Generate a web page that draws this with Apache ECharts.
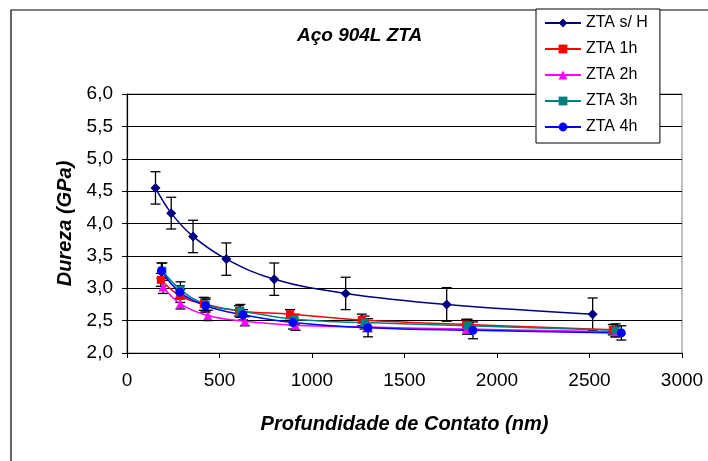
<!DOCTYPE html>
<html>
<head>
<meta charset="utf-8">
<title>Aço 904L ZTA</title>
<script src="https://cdn.jsdelivr.net/npm/echarts@6/dist/echarts.min.js"></script>
<style>
html, body { margin: 0; padding: 0; background: #fff; }
#main { width: 708px; height: 461px; }
</style>
</head>
<body>
<div id="main"></div>
<script>
// valores (profundidade nm, dureza GPa, barra de erro)
var seriesNames = ['ZTA s/ H', 'ZTA 1h', 'ZTA 2h', 'ZTA 3h', 'ZTA 4h'];

var x_sH = [154, 239, 357, 537, 796, 1182, 1728, 2517];
var y_sH = [4.55, 4.16, 3.80, 3.45, 3.14, 2.92, 2.75, 2.60];
var e_sH = [0.25, 0.245, 0.25, 0.25, 0.25, 0.25, 0.26, 0.25];

var x_1h = [183, 288, 415, 605, 881, 1269, 1833, 2626];
var y_1h = [3.13, 2.88, 2.76, 2.65, 2.60, 2.51, 2.44, 2.36];
var e_1h = [0.1, 0.1, 0.1, 0.08, 0.07, 0.09, 0.08, 0.08];

var x_2h = [195, 289, 437, 637, 911, 1300, 1838, 2640];
var y_2h = [3.02, 2.76, 2.58, 2.49, 2.43, 2.40, 2.37, 2.33];
var e_2h = [0.1, 0.08, 0.08, 0.07, 0.08, 0.07, 0.08, 0.08];

var x_3h = [191, 289, 425, 613, 906, 1284, 1841, 2641];
var y_3h = [3.27, 2.98, 2.75, 2.65, 2.52, 2.47, 2.42, 2.35];
var e_3h = [0.12, 0.12, 0.1, 0.1, 0.08, 0.1, 0.1, 0.1];

var x_4h = [186, 285, 424, 627, 897, 1303, 1870, 2672];
var y_4h = [3.27, 2.94, 2.73, 2.59, 2.47, 2.39, 2.35, 2.31];
var e_4h = [0.12, 0.1, 0.1, 0.08, 0.1, 0.14, 0.13, 0.11];

var xTicks = [0, 500, 1000, 1500, 2000, 2500, 3000];
var yTicks = [2.0, 2.5, 3.0, 3.5, 4.0, 4.5, 5.0, 5.5, 6.0];

var allX = [x_sH, x_1h, x_2h, x_3h, x_4h];
var allY = [y_sH, y_1h, y_2h, y_3h, y_4h];
var allE = [e_sH, e_1h, e_2h, e_3h, e_4h];
var colors = ['#000080', '#ff0000', '#ff00ff', '#008080', '#0000ff'];
var symbols = ['diamond', 'rect', 'triangle', 'rect', 'circle'];
var symbolSizes = [10, 8, 9, 8, 9];

var fontFam = '"Liberation Sans", Arial, sans-serif';

function pairs(xs, ys) {
    var out = [];
    for (var i = 0; i < xs.length; i++) {
        out.push([xs[i], ys[i]]);
    }
    return out;
}

function errData(xs, ys, es) {
    var out = [];
    for (var i = 0; i < xs.length; i++) {
        out.push([xs[i], ys[i] - es[i], ys[i] + es[i]]);
    }
    return out;
}

function errorBarItem(params, api) {
    var x = api.value(0);
    var lo = api.coord([x, api.value(1)]);
    var hi = api.coord([x, api.value(2)]);
    var w = 5;
    var st = { stroke: '#000', lineWidth: 1.3 };
    return {
        type: 'group',
        children: [
            { type: 'line', shape: { x1: hi[0], y1: hi[1], x2: lo[0], y2: lo[1] }, style: st },
            { type: 'line', shape: { x1: hi[0] - w, y1: hi[1], x2: hi[0] + w, y2: hi[1] }, style: st },
            { type: 'line', shape: { x1: lo[0] - w, y1: lo[1], x2: lo[0] + w, y2: lo[1] }, style: st }
        ]
    };
}

var series = [];
for (var k = 0; k < seriesNames.length; k++) {
    series.push({
        type: 'custom',
        name: seriesNames[k] + ' erro',
        renderItem: errorBarItem,
        encode: { x: 0, y: [1, 2] },
        data: errData(allX[k], allY[k], allE[k]),
        clip: false,
        silent: true,
        z: 2
    });
}
for (var j = 0; j < seriesNames.length; j++) {
    series.push({
        type: 'line',
        name: seriesNames[j],
        data: pairs(allX[j], allY[j]),
        smooth: 0.4,
        symbol: symbols[j],
        symbolSize: symbolSizes[j],
        showAllSymbol: true,
        color: colors[j],
        lineStyle: { width: 1.5, color: colors[j] },
        itemStyle: { color: colors[j] },
        z: 3
    });
}

var chart = echarts.init(document.getElementById('main'));
chart.setOption({
    animation: false,
    backgroundColor: '#fff',
    textStyle: { fontFamily: fontFam },
    title: {
        text: 'Aço 904L ZTA',
        left: 297,
        top: 26,
        padding: 0,
        textStyle: { fontFamily: fontFam, fontSize: 19, fontWeight: 'bold', fontStyle: 'italic', color: '#000' }
    },
    graphic: [{
        type: 'rect',
        shape: { x: 11, y: 10, width: 720, height: 480 },
        style: { fill: 'none', stroke: '#000', lineWidth: 1.2 },
        z: -1
    }],
    legend: {
        data: seriesNames,
        orient: 'vertical',
        left: 536,
        top: 9,
        width: 123,
        itemWidth: 36,
        itemHeight: 11,
        itemGap: 10,
        padding: [6, 12, 8, 8],
        backgroundColor: '#fff',
        borderColor: '#000',
        borderWidth: 1,
        borderRadius: 0,
        textStyle: { fontFamily: fontFam, fontSize: 16, color: '#000', lineHeight: 16, padding: [0, 0, 0, 0] }
    },
    grid: {
        left: 127,
        top: 94,
        right: 26,
        bottom: 108,
        show: true,
        borderColor: '#808080',
        borderWidth: 1,
        containLabel: false
    },
    xAxis: {
        type: 'value',
        min: xTicks[0],
        max: xTicks[xTicks.length - 1],
        interval: 500,
        name: 'Profundidade de Contato (nm)',
        nameLocation: 'middle',
        nameGap: 61,
        nameTextStyle: { fontFamily: fontFam, fontSize: 20, fontWeight: 'bold', fontStyle: 'italic', color: '#000' },
        axisLine: { show: true, lineStyle: { color: '#000', width: 1.2 } },
        axisTick: { show: true, inside: false, length: 5, lineStyle: { color: '#000' } },
        axisLabel: {
            fontFamily: fontFam, fontSize: 19, color: '#000', margin: 18,
            formatter: function(v) { return String(v); }
        },
        splitLine: { show: false }
    },
    yAxis: {
        type: 'value',
        min: yTicks[0],
        max: yTicks[yTicks.length - 1],
        interval: 0.5,
        name: 'Dureza (GPa)',
        nameLocation: 'middle',
        nameGap: 48,
        nameTextStyle: { fontFamily: fontFam, fontSize: 20, fontWeight: 'bold', fontStyle: 'italic', color: '#000' },
        axisLine: { show: true, lineStyle: { color: '#000', width: 1.2 } },
        axisTick: { show: true, inside: false, length: 5, lineStyle: { color: '#000' } },
        axisLabel: {
            fontFamily: fontFam, fontSize: 19, color: '#000', margin: 14,
            formatter: function(v) { return v.toFixed(1).replace('.', ','); }
        },
        splitLine: { show: true, lineStyle: { color: '#000', width: 1.2 } }
    },
    series: series
});
</script>
</body>
</html>
